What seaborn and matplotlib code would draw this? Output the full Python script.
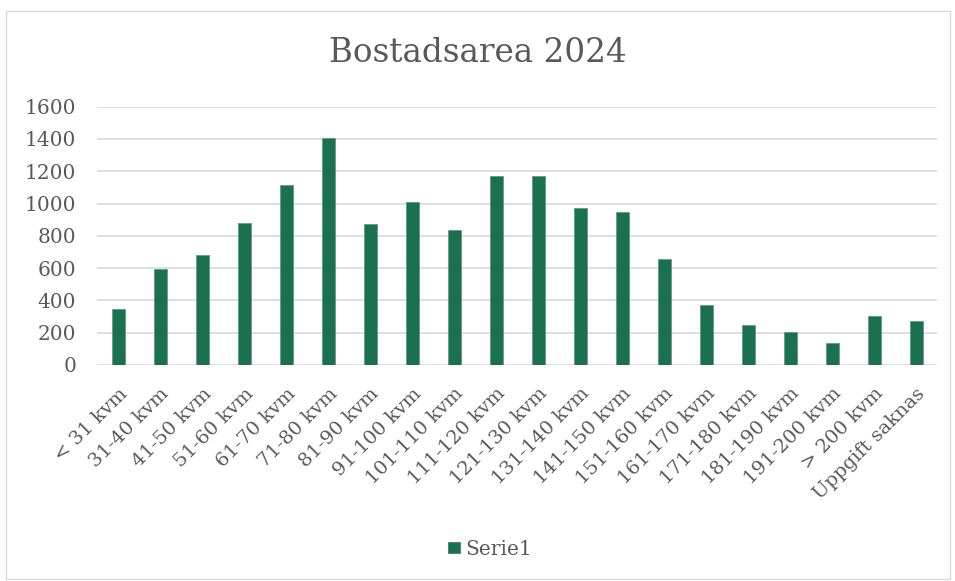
import numpy as np
import pandas as pd
import matplotlib
matplotlib.use("Agg")
import matplotlib.pyplot as plt
from matplotlib.patches import Patch, Rectangle
import seaborn as sns

categories = ["< 31 kvm", "31-40 kvm", "41-50 kvm", "51-60 kvm", "61-70 kvm",
              "71-80 kvm", "81-90 kvm", "91-100 kvm", "101-110 kvm", "111-120 kvm",
              "121-130 kvm", "131-140 kvm", "141-150 kvm", "151-160 kvm", "161-170 kvm",
              "171-180 kvm", "181-190 kvm", "191-200 kvm", "> 200 kvm", "Uppgift saknas"]
values = [347, 592, 679, 877, 1115, 1406, 871, 1007, 834, 1171,
          1171, 970, 950, 654, 370, 250, 204, 138, 301, 275]
yticks = [0, 200, 400, 600, 800, 1000, 1200, 1400, 1600]

bar_color = "#1B7050"
text_color = "#595959"
grid_color = "#D9D9D9"

sns.set_style("white")
plt.rcParams['font.family'] = ['DejaVu Serif']

df = pd.DataFrame({"kategori": categories, "antal": values})

fig = plt.figure(figsize=(9.55, 5.81), dpi=100)
ax = fig.add_axes([0.1016, 0.3718, 0.8796, 0.4446])

sns.barplot(data=df, x="kategori", y="antal", color=bar_color, width=0.31,
            saturation=1, edgecolor="#5f9c85", linewidth=0.6, ax=ax)

ax.set_ylim(0, 1600)
ax.set_xlim(-0.5, len(categories) - 0.5)
ax.set_yticks(yticks)
ax.set_yticklabels([str(v) for v in yticks], fontsize=14.5, color=text_color)
ax.yaxis.grid(True, color=grid_color, linewidth=1.2)
ax.set_axisbelow(True)
ax.set_xticks(range(len(categories)))
ax.set_xticklabels(categories, rotation=45, ha="right", rotation_mode="anchor",
                   fontsize=14, color=text_color)
ax.tick_params(axis="y", length=0, pad=15)
ax.tick_params(axis="x", length=0, pad=14)
ax.set_xlabel("")
ax.set_ylabel("")
for s in ax.spines.values():
    s.set_visible(False)

fig.text(0.5, 0.908, "Bostadsarea 2024", ha="center", va="center",
         fontsize=23.5, color=text_color)

ax.legend(handles=[Patch(facecolor=bar_color, label="Serie1")],
          loc="center", bbox_to_anchor=(0.513, 0.055), bbox_transform=fig.transFigure,
          frameon=False, fontsize=14.5, labelcolor=text_color,
          handlelength=0.65, handleheight=0.65, handletextpad=0.25)

fig.patches.append(Rectangle((6 / 955, 0.004), 944 / 955, 1 - 11 / 581 - 0.004,
                             transform=fig.transFigure, fill=False,
                             edgecolor=grid_color, linewidth=1))

fig.savefig("out.png", dpi=100)
